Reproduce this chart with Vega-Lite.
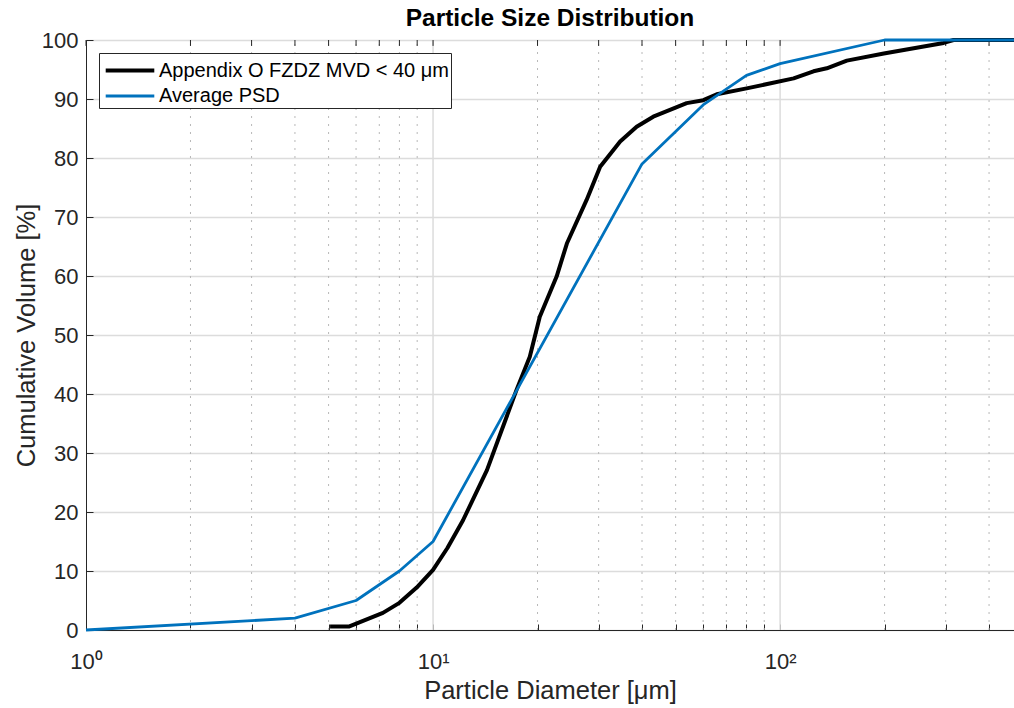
{
  "$schema": "https://vega.github.io/schema/vega-lite/v6.json",
  "autosize": {"type": "none"},
  "width": 928,
  "height": 590,
  "padding": {"left": 86, "top": 40, "right": 0, "bottom": 78},
  "background": "white",
  "title": {"text": "Particle Size Distribution", "font": "Liberation Sans", "fontSize": 24.5, "fontWeight": "bold", "color": "#000000", "anchor": "middle", "offset": -2},
  "config": {
    "view": {"stroke": "#262626", "strokeWidth": 1},
    "font": "Liberation Sans",
    "axis": {"labelFont": "Liberation Sans", "titleFont": "Liberation Sans", "labelColor": "#262626", "titleColor": "#262626", "domainColor": "#262626", "tickColor": "#262626", "titleFontWeight": "normal"}
  },
  "datasets": {
    "curves": [
      {"d": 5.05, "v": 0.6, "s": "Appendix O FZDZ MVD < 40 μm"},
      {"d": 5.74, "v": 0.6, "s": "Appendix O FZDZ MVD < 40 μm"},
      {"d": 7.17, "v": 2.9, "s": "Appendix O FZDZ MVD < 40 μm"},
      {"d": 8.0, "v": 4.6, "s": "Appendix O FZDZ MVD < 40 μm"},
      {"d": 8.97, "v": 7.2, "s": "Appendix O FZDZ MVD < 40 μm"},
      {"d": 10.0, "v": 10.2, "s": "Appendix O FZDZ MVD < 40 μm"},
      {"d": 11.0, "v": 13.9, "s": "Appendix O FZDZ MVD < 40 μm"},
      {"d": 12.2, "v": 18.6, "s": "Appendix O FZDZ MVD < 40 μm"},
      {"d": 14.3, "v": 27.1, "s": "Appendix O FZDZ MVD < 40 μm"},
      {"d": 17.4, "v": 40.7, "s": "Appendix O FZDZ MVD < 40 μm"},
      {"d": 19.0, "v": 46.3, "s": "Appendix O FZDZ MVD < 40 μm"},
      {"d": 20.3, "v": 53.1, "s": "Appendix O FZDZ MVD < 40 μm"},
      {"d": 22.7, "v": 59.9, "s": "Appendix O FZDZ MVD < 40 μm"},
      {"d": 24.3, "v": 65.5, "s": "Appendix O FZDZ MVD < 40 μm"},
      {"d": 27.7, "v": 72.9, "s": "Appendix O FZDZ MVD < 40 μm"},
      {"d": 30.3, "v": 78.5, "s": "Appendix O FZDZ MVD < 40 μm"},
      {"d": 34.6, "v": 82.8, "s": "Appendix O FZDZ MVD < 40 μm"},
      {"d": 38.6, "v": 85.3, "s": "Appendix O FZDZ MVD < 40 μm"},
      {"d": 43.1, "v": 87.0, "s": "Appendix O FZDZ MVD < 40 μm"},
      {"d": 53.8, "v": 89.3, "s": "Appendix O FZDZ MVD < 40 μm"},
      {"d": 60.1, "v": 89.8, "s": "Appendix O FZDZ MVD < 40 μm"},
      {"d": 65.7, "v": 90.8, "s": "Appendix O FZDZ MVD < 40 μm"},
      {"d": 80.1, "v": 91.8, "s": "Appendix O FZDZ MVD < 40 μm"},
      {"d": 109.4, "v": 93.5, "s": "Appendix O FZDZ MVD < 40 μm"},
      {"d": 124.8, "v": 94.7, "s": "Appendix O FZDZ MVD < 40 μm"},
      {"d": 136.3, "v": 95.2, "s": "Appendix O FZDZ MVD < 40 μm"},
      {"d": 155.7, "v": 96.5, "s": "Appendix O FZDZ MVD < 40 μm"},
      {"d": 199, "v": 97.7, "s": "Appendix O FZDZ MVD < 40 μm"},
      {"d": 296, "v": 99.5, "s": "Appendix O FZDZ MVD < 40 μm"},
      {"d": 316, "v": 100, "s": "Appendix O FZDZ MVD < 40 μm"},
      {"d": 472, "v": 100, "s": "Appendix O FZDZ MVD < 40 μm"},
      {"d": 1, "v": 0, "s": "Average PSD"},
      {"d": 4, "v": 2, "s": "Average PSD"},
      {"d": 6, "v": 5, "s": "Average PSD"},
      {"d": 8, "v": 10, "s": "Average PSD"},
      {"d": 10, "v": 15, "s": "Average PSD"},
      {"d": 40, "v": 79, "s": "Average PSD"},
      {"d": 60, "v": 89, "s": "Average PSD"},
      {"d": 80, "v": 94, "s": "Average PSD"},
      {"d": 100, "v": 96, "s": "Average PSD"},
      {"d": 200, "v": 100, "s": "Average PSD"},
      {"d": 472, "v": 100, "s": "Average PSD"}
    ],
    "minor": [
      {"g": 2}, {"g": 3}, {"g": 4}, {"g": 5}, {"g": 6}, {"g": 7}, {"g": 8}, {"g": 9},
      {"g": 20}, {"g": 30}, {"g": 40}, {"g": 50}, {"g": 60}, {"g": 70}, {"g": 80}, {"g": 90},
      {"g": 200}, {"g": 300}, {"g": 400}
    ],
    "major": [{"g": 10}, {"g": 100}],
    "ticks": [
      {"g": 1}, {"g": 2}, {"g": 3}, {"g": 4}, {"g": 5}, {"g": 6}, {"g": 7}, {"g": 8}, {"g": 9},
      {"g": 10}, {"g": 20}, {"g": 30}, {"g": 40}, {"g": 50}, {"g": 60}, {"g": 70}, {"g": 80}, {"g": 90},
      {"g": 100}, {"g": 200}, {"g": 300}, {"g": 400}
    ]
  },
  "layer": [
    {
      "data": {"name": "minor"},
      "mark": {"type": "rule", "color": "#b8b8b8", "strokeWidth": 1, "strokeDash": [2, 6]},
      "encoding": {
        "x": {"field": "g", "type": "quantitative", "scale": {"type": "log", "domain": [1, 472], "nice": false}},
        "y": {"datum": 0, "type": "quantitative"},
        "y2": {"datum": 100}
      }
    },
    {
      "data": {"name": "major"},
      "mark": {"type": "rule", "color": "#dcdcdc", "strokeWidth": 1.5},
      "encoding": {
        "x": {"field": "g", "type": "quantitative"},
        "y": {"datum": 0, "type": "quantitative"},
        "y2": {"datum": 100}
      }
    },
    {
      "data": {"name": "ticks"},
      "mark": {"type": "rule", "color": "#262626", "strokeWidth": 1},
      "encoding": {
        "x": {"field": "g", "type": "quantitative"},
        "y": {"datum": 100, "type": "quantitative"},
        "y2": {"datum": 99}
      }
    },
    {
      "data": {"name": "curves"},
      "mark": {"type": "line", "strokeJoin": "round", "strokeCap": "butt"},
      "encoding": {
        "x": {
          "field": "d", "type": "quantitative",
          "scale": {"type": "log", "domain": [1, 472], "nice": false},
          "axis": {
            "title": "Particle Diameter [μm]",
            "titleFontSize": 25.5, "titlePadding": 6,
            "values": [1, 2, 3, 4, 5, 6, 7, 8, 9, 10, 20, 30, 40, 50, 60, 70, 80, 90, 100, 200, 300, 400],
            "labelExpr": "datum.value == 1 ? '10⁰' : datum.value == 10 ? '10¹' : datum.value == 100 ? '10²' : ''",
            "labelFontSize": 22, "labelPadding": 27, "labelFlush": false, "labelOverlap": false,
            "tickSize": -6, "grid": false
          }
        },
        "y": {
          "field": "v", "type": "quantitative",
          "scale": {"domain": [0, 100], "nice": false},
          "axis": {
            "title": "Cumulative Volume [%]",
            "titleFontSize": 25.5, "titlePadding": 2,
            "values": [0, 10, 20, 30, 40, 50, 60, 70, 80, 90, 100],
            "labelFontSize": 22, "labelPadding": 15,
            "tickSize": -7, "grid": true, "gridColor": "#dcdcdc", "gridWidth": 1.5
          }
        },
        "color": {
          "field": "s", "type": "nominal",
          "scale": {"domain": ["Appendix O FZDZ MVD < 40 μm", "Average PSD"], "range": ["#000000", "#0072BD"]},
          "legend": {
            "title": null, "orient": "none", "legendX": 13, "legendY": 13,
            "symbolType": "M-0.8,0H2.8", "symbolSize": 729,
            "labelFont": "Liberation Sans", "labelFontSize": 20, "labelColor": "#000000", "labelLimit": 500,
            "fillColor": "white", "strokeColor": "#262626", "padding": 2, "rowPadding": 0, "labelOffset": 27
          }
        },
        "strokeWidth": {
          "field": "s", "type": "nominal",
          "scale": {"domain": ["Appendix O FZDZ MVD < 40 μm", "Average PSD"], "range": [4, 2.8]},
          "legend": {
            "title": null, "orient": "none", "legendX": 13, "legendY": 13,
            "symbolType": "M-0.8,0H2.8", "symbolSize": 729,
            "labelFont": "Liberation Sans", "labelFontSize": 20, "labelColor": "#000000", "labelLimit": 500,
            "fillColor": "white", "strokeColor": "#262626", "padding": 2, "rowPadding": 0, "labelOffset": 27
          }
        }
      }
    }
  ]
}
